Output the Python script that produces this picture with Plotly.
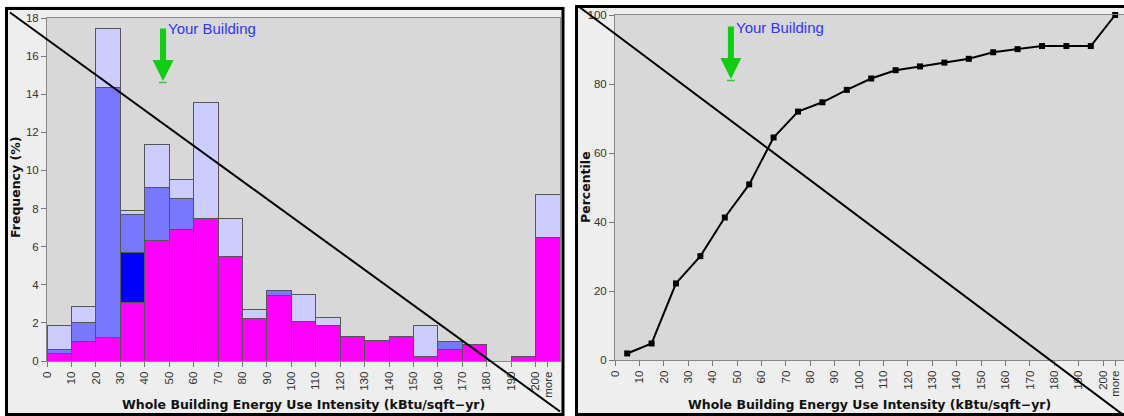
import plotly.graph_objects as go

# ---------------- data ----------------
bin_start = [0, 10, 20, 30, 40, 50, 60, 70, 80, 90, 100, 110, 120, 130, 140,
             150, 160, 170, 180, 190, 200]
tick_vals = [0, 10, 20, 30, 40, 50, 60, 70, 80, 90, 100, 110, 120, 130, 140,
             150, 160, 170, 180, 190, 200, 205]
tick_text = ["0", "10", "20", "30", "40", "50", "60", "70", "80", "90", "100",
             "110", "120", "130", "140", "150", "160", "170", "180", "190", "200", "more"]

# stacked frequency segments (%)
freq_magenta = [0.40, 1.00, 1.24, 3.06, 6.30, 6.91, 7.49, 5.51, 2.24, 3.46, 2.06,
                1.85, 1.28, 1.05, 1.28, 0.23, 0.61, 0.84, None, 0.25, 6.49]
freq_darkblue = [None, None, None, 2.64, None, None, None, None, None, None, None,
                 None, None, None, None, None, None, None, None, None, None]
freq_midblue = [0.18, 1.03, 13.13, 2.00, 2.82, 1.60, None, None, None, 0.23, None,
                None, None, None, None, None, 0.40, None, None, None, None]
freq_lavender = [1.27, 0.84, 3.06, 0.19, 2.25, 1.03, 6.07, 1.98, 0.44, None, 1.44,
                 0.42, None, None, None, 1.64, None, None, None, None, 2.24]

# percentile curve (bin centres)
pct_x = [5, 15, 25, 35, 45, 55, 65, 75, 85, 95, 105, 115, 125, 135, 145, 155,
         165, 175, 185, 195, 205]
pct_y = [1.9, 4.8, 22.2, 30.1, 41.3, 50.9, 64.5, 72.0, 74.7, 78.3, 81.6, 84.0,
         85.1, 86.2, 87.3, 89.2, 90.1, 91.0, 91.0, 91.0, 100.0]

building_eui = 47.5

x_title = "Whole Building Energy Use Intensity (kBtu/sqft\u2212yr)"
y1_title = "Frequency (%)"
y2_title = "Percentile"
marker_label = "Your Building"

# ---------------- figure ----------------
W, H = 1124, 416
fig = go.Figure()

edge = dict(color="#555555", width=1)
for vals, col in [(freq_magenta, "#ff00ff"), (freq_darkblue, "#0000ff"),
                  (freq_midblue, "#7777ff"), (freq_lavender, "#ccccff")]:
    fig.add_trace(go.Bar(x=bin_start, y=vals, offset=0, width=10,
                         marker=dict(color=col, line=edge),
                         xaxis="x", yaxis="y", showlegend=False))

fig.add_trace(go.Scatter(x=pct_x, y=pct_y, mode="lines+markers",
                         line=dict(color="black", width=2),
                         marker=dict(symbol="square", size=6, color="black"),
                         xaxis="x2", yaxis="y2", showlegend=False,
                         cliponaxis=False))


def px(v):
    return v / W


def py(v):
    return 1 - v / H


FONT = "Liberation Sans, Arial, sans-serif"
TFONT = "DejaVu Sans, Verdana, sans-serif"
tickfont = dict(family=FONT, size=11.5, color="#333333")
titlefont = dict(family=TFONT, size=12.5, color="#111111")

common_x = dict(tickvals=tick_vals, ticktext=tick_text, tickangle=-90,
                tickfont=tickfont, ticks="outside", ticklen=5, tickcolor="#777777",
                showgrid=False, zeroline=False, showline=True, linecolor="#888888",
                linewidth=1, mirror=True, fixedrange=True, automargin=False)
common_y = dict(tickfont=tickfont, ticks="outside", ticklen=5, tickcolor="#777777",
                showgrid=False, zeroline=False, showline=True, linecolor="#888888",
                linewidth=1, mirror=True, automargin=False, fixedrange=True)

fig.update_layout(
    width=W, height=H, autosize=False,
    margin=dict(l=0, r=0, t=0, b=0, pad=0),
    paper_bgcolor="#eeeeee", plot_bgcolor="#d8d8d8",
    barmode="stack", bargap=0, hovermode=False,
    xaxis=dict(domain=[px(47), px(560)], range=[0, 210], anchor="y", **common_x),
    yaxis=dict(domain=[py(361), py(18)], range=[0, 18], dtick=2, anchor="x", **common_y),
    xaxis2=dict(domain=[px(615), 1.0], range=[0, (W - 615) / 2.44], anchor="y2", **common_x),
    yaxis2=dict(domain=[py(360), py(15)], range=[0, 100], dtick=20, anchor="x2", **common_y),
)

shapes = []
# white gaps around the two panels
for (x0, y0, x1, y1) in [(0, 0, 5, H), (564, 0, 575, H), (0, 0, W, 5.5)]:
    shapes.append(dict(type="rect", xref="paper", yref="paper",
                       x0=px(x0), x1=px(x1), y0=py(y0), y1=py(y1),
                       fillcolor="white", line=dict(width=0), layer="below"))
# black panel frames
shapes.append(dict(type="rect", xref="paper", yref="paper",
                   x0=px(6.5), x1=px(563), y0=py(8.5), y1=py(414.5),
                   line=dict(color="black", width=3)))
shapes.append(dict(type="rect", xref="paper", yref="paper",
                   x0=px(576.5), x1=px(W + 5), y0=py(6.5), y1=py(414.5),
                   line=dict(color="black", width=3)))
# diagonal strike lines
shapes.append(dict(type="line", xref="paper", yref="paper",
                   x0=px(10), y0=py(12.5), x1=px(560), y1=py(411.5),
                   line=dict(color="black", width=2)))
shapes.append(dict(type="line", xref="paper", yref="paper",
                   x0=px(578), y0=py(6), x1=px(1124), y1=py(415.5),
                   line=dict(color="black", width=2)))
# small green tick at arrow tips
for xr, yr, yd in [("x", "y domain", 1 - (82.5 - 18) / 343),
                   ("x2", "y2 domain", 1 - (80.5 - 15) / 345)]:
    shapes.append(dict(type="line", xref=xr, yref=yr,
                       x0=building_eui - 1.6, x1=building_eui + 1.6, y0=yd, y1=yd,
                       line=dict(color="#33cc33", width=1.5)))
fig.update_layout(shapes=shapes)

annos = []
for xr, yr, ytip, ytxt in [("x", "y domain", 1 - (81 - 18) / 343, 1 - (29 - 18) / 343),
                           ("x2", "y2 domain", 1 - (79 - 15) / 345, 1 - (27 - 15) / 345)]:
    annos.append(dict(x=building_eui, y=ytip, xref=xr, yref=yr, text="",
                      showarrow=True, ax=0, ay=-54, arrowhead=2, arrowsize=0.7,
                      arrowwidth=6, arrowcolor="#11cc11"))
    annos.append(dict(x=building_eui, y=ytxt, xref=xr, yref=yr, text=marker_label,
                      showarrow=False, xanchor="left", yanchor="middle", xshift=3,
                      font=dict(family=FONT, size=15, color="#3333ff")))
# axis titles
for xc in (303.5, 869):
    annos.append(dict(x=px(xc), y=py(404), xref="paper", yref="paper",
                      text="<b>" + x_title + "</b>", showarrow=False,
                      xanchor="center", yanchor="middle", font=titlefont))
for xc, yc, t in [(16, 188, y1_title), (585, 187, y2_title)]:
    annos.append(dict(x=px(xc), y=py(yc), xref="paper", yref="paper",
                      text="<b>" + t + "</b>", showarrow=False, textangle=-90,
                      xanchor="center", yanchor="middle", font=titlefont))
fig.update_layout(annotations=annos)

fig.write_html("out.html",
               config={"displayModeBar": False, "staticPlot": True},
               post_script="document.body.style.margin='0';"
                           "document.body.style.padding='0';"
                           "document.body.style.overflow='hidden';"
                           "document.documentElement.style.overflow='hidden';")
